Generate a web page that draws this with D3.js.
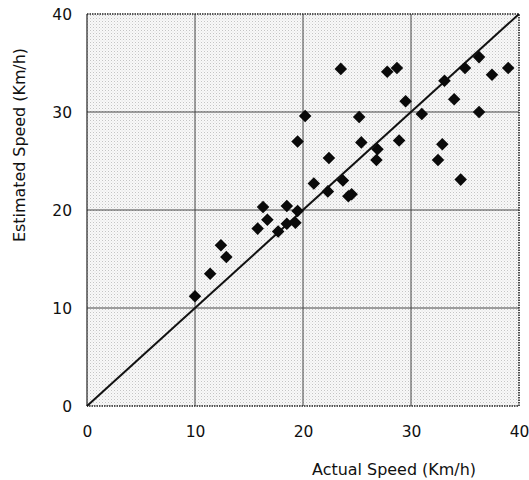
<!DOCTYPE html>
<html><head><meta charset="utf-8">
<script src="https://cdn.jsdelivr.net/npm/d3@7"></script>
<style>html,body{margin:0;padding:0;background:#fff;}svg{display:block;}</style>
</head><body>
<script>
const actualSpeed = [10.0,11.4,12.4,12.9,15.8,16.3,16.7,17.7,18.5,18.5,19.3,19.5,19.5,20.2,21.0,22.3,22.4,23.5,23.7,24.2,24.5,25.2,25.4,26.8,26.9,27.8,28.7,28.9,29.5,31.0,32.5,32.9,33.1,34.0,34.6,35.0,36.3,36.3,37.5,39.0];
const estimatedSpeed = [11.2,13.5,16.4,15.2,18.1,20.3,19.0,17.8,20.4,18.6,18.7,19.9,27.0,29.6,22.7,21.9,25.3,34.4,23.0,21.4,21.6,29.5,26.9,25.1,26.2,34.1,34.5,27.1,31.1,29.8,25.1,26.7,33.2,31.3,23.1,34.5,35.6,30.0,33.8,34.5];
const tickValues = [0,10,20,30,40];
const xTitle = "Actual Speed (Km/h)";
const yTitle = "Estimated Speed (Km/h)";

const W = 529, H = 480;
const m = {left: 87, right: 10, top: 14, bottom: 74};
const svg = d3.select("body").append("svg").attr("width", W).attr("height", H);
const FONT = "DejaVu Sans, sans-serif";

const defs = svg.append("defs");
const pat = defs.append("pattern").attr("id","stip").attr("width",3).attr("height",3).attr("patternUnits","userSpaceOnUse");
pat.append("rect").attr("width",3).attr("height",3).attr("fill","#f8f8f8");
pat.append("rect").attr("x",0).attr("y",0).attr("width",1).attr("height",1).attr("fill","#c4c4c4");
pat.append("rect").attr("x",1.5).attr("y",1.5).attr("width",1).attr("height",1).attr("fill","#dedede");

const x = d3.scaleLinear().domain([0,40]).range([m.left, 519]);
const y = d3.scaleLinear().domain([0,40]).range([406, m.top]);

svg.append("rect").attr("x", x(0)).attr("y", y(40)).attr("width", x(40)-x(0)).attr("height", y(0)-y(40)).attr("fill","url(#stip)");

// grid
const g = svg.append("g");
g.selectAll(".vx").data(tickValues.slice(1,4)).join("line")
  .attr("x1", d=>x(d)).attr("x2", d=>x(d)).attr("y1", y(0)).attr("y2", y(40))
  .attr("stroke","#444").attr("stroke-width",1);
g.selectAll(".hy").data(tickValues.slice(1,4)).join("line")
  .attr("y1", d=>y(d)).attr("y2", d=>y(d)).attr("x1", x(0)).attr("x2", x(40))
  .attr("stroke","#444").attr("stroke-width",1);

// border
svg.append("line").attr("x1",x(0)).attr("x2",x(0)).attr("y1",y(0)).attr("y2",y(40)).attr("stroke","#222").attr("stroke-width",1.2);
svg.append("path").attr("d",`M${x(0)},${y(40)}H${x(40)}V${y(0)}H${x(0)}`).attr("fill","none")
  .attr("stroke","#222").attr("stroke-width",1.6).attr("stroke-dasharray","1.5,1");

// diagonal
svg.append("line").attr("x1",x(0)).attr("y1",y(0)).attr("x2",x(40)).attr("y2",y(40))
  .attr("stroke","#111").attr("stroke-width",2);

// axes (labels only)
const xAxis = d3.axisBottom(x).tickValues(tickValues).tickSize(0).tickPadding(0);
const xa = svg.append("g").attr("transform",`translate(0,${y(0)+20})`).call(xAxis);
const yAxis = d3.axisLeft(y).tickValues(tickValues).tickSize(0).tickPadding(0);
const ya = svg.append("g").attr("transform",`translate(${x(0)-15},0)`).call(yAxis);
[xa,ya].forEach(a=>{
  a.select(".domain").remove();
  a.selectAll("text").attr("font-family",FONT).attr("font-size",15.5).attr("fill","#111");
});
ya.selectAll("text").attr("dy","0.35em");

// points
const diamond = d3.symbol().type(d3.symbolDiamond2).size(100);
svg.append("g").selectAll("path").data(actualSpeed.map((a,i)=>[a,estimatedSpeed[i]])).join("path")
  .attr("d", diamond).attr("transform", d=>`translate(${x(d[0])},${y(d[1])})`).attr("fill","#0a0a0a");

// titles
svg.append("text").attr("x",394).attr("y",475).attr("text-anchor","middle")
  .attr("font-family",FONT).attr("font-size",15).attr("fill","#111")
  .attr("textLength",164).attr("lengthAdjust","spacingAndGlyphs").text(xTitle);
svg.append("text").attr("transform",`translate(25,145) rotate(-90)`).attr("text-anchor","middle")
  .attr("font-family",FONT).attr("font-size",15).attr("fill","#111")
  .attr("textLength",194).attr("lengthAdjust","spacingAndGlyphs").text(yTitle);
</script>
</body></html>
